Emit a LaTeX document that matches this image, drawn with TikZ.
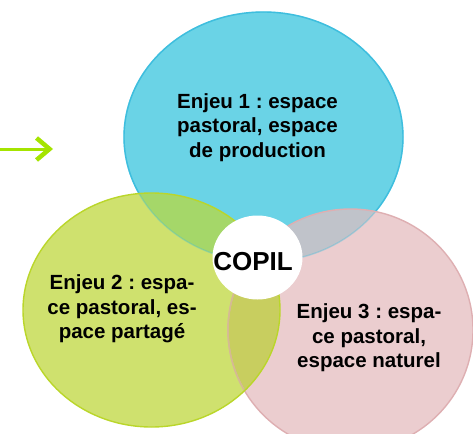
\documentclass[tikz,border=0pt]{standalone}
\usepackage{fontspec}
\setmainfont{Liberation Sans}
\usetikzlibrary{arrows.meta}
\frenchspacing
\definecolor{cyanf}{RGB}{106,211,230}
\definecolor{cyand}{RGB}{62,190,222}
\definecolor{greenf}{RGB}{207,225,110}
\definecolor{greend}{RGB}{186,214,42}
\definecolor{pinkf}{RGB}{235,205,207}
\definecolor{pinkd}{RGB}{222,175,178}
\definecolor{cgf}{RGB}{165,215,105}
\definecolor{cpf}{RGB}{192,195,202}
\definecolor{gpf}{RGB}{200,206,95}
\definecolor{arrowc}{RGB}{165,228,0}
\tikzset{
  enjeu/.style={align=center, inner sep=0pt, font=\fontsize{20.5}{24.5}\selectfont\bfseries},
  copil/.style={inner sep=0pt, font=\fontsize{26}{30}\selectfont\bfseries},
  rim/.style={line width=1.4pt}
}
\begin{document}
\begin{tikzpicture}[x=1pt,y=-1pt]
\useasboundingbox (0,0) rectangle (473,433);
\def\cyanE{(263.5,137) ellipse [x radius=139.5pt, y radius=125pt]}
\def\greenE{(151.5,310) ellipse [x radius=128.5pt, y radius=117pt]}
\def\pinkE{(350.5,330) ellipse [x radius=122.5pt, y radius=121pt]}
% base fills
\fill[cyanf] \cyanE;
\draw[rim, cyand] \cyanE;
\fill[pinkf] \pinkE;
\fill[greenf] \greenE;
% overlaps
\begin{scope}
  \clip \cyanE;
  \fill[cgf] \greenE;
  \fill[cpf] \pinkE;
\end{scope}
\begin{scope}
  \clip \greenE;
  \fill[gpf] \pinkE;
\end{scope}
% rims
\draw[rim, cyand, draw opacity=0.35] \cyanE;
\draw[rim, pinkd] \pinkE;
\begin{scope}
  \clip \greenE;
  \draw[rim, pinkd!60!gpf] \pinkE;
\end{scope}
\draw[rim, greend] \greenE;
% centre
\fill[white] (257.5,257.5) ellipse [x radius=45pt, y radius=42pt];
% arrow
\coordinate (a0) at (0,149);
\coordinate (a1) at (53,149);
\draw[arrowc, line width=3pt, -{Straight Barb[length=13pt,width=22pt,line width=4.5pt]}] (a0) -- (a1);
% texts
\node[enjeu] (e1) at (257.5,127.3) {Enjeu 1 : espace\\pastoral, espace\\de production};
\node[enjeu] (e2) at (122,308.8) {Enjeu 2 : espa-\\ce pastoral, es-\\pace partagé};
\node[enjeu] (e3) at (369,337.8) {Enjeu 3 : espa-\\ce pastoral,\\espace naturel};
\node[copil] (cp) at (253,261.7) {COPIL};
\end{tikzpicture}
\end{document}
